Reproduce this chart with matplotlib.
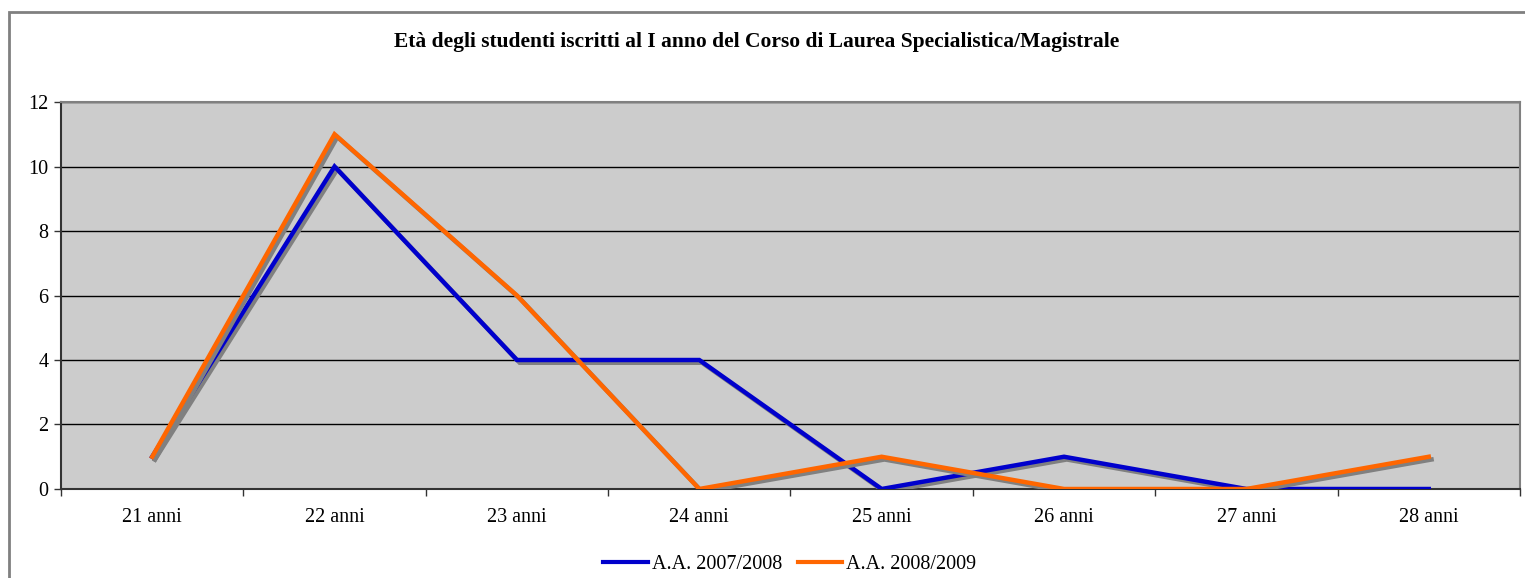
import matplotlib
matplotlib.use('Agg')
import matplotlib.pyplot as plt
import matplotlib.patheffects as pe
from matplotlib.patches import Rectangle
from matplotlib.lines import Line2D

plt.rcParams['font.family'] = ['Liberation Serif', 'DejaVu Serif']

# data
categories = ['21 anni', '22 anni', '23 anni', '24 anni', '25 anni', '26 anni', '27 anni', '28 anni']
aa_2007 = [1, 10, 4, 4, 0, 1, 0, 0]
aa_2008 = [1, 11, 6, 0, 1, 0, 0, 1]
series_labels = ['A.A. 2007/2008', 'A.A. 2008/2009']
colors = ['#0000CC', '#FF6600']

fig = plt.figure(figsize=(15.25, 5.78), dpi=100)
ax = fig.add_axes([0.04, 0.154, 0.9567, 0.6695])

# outer chart border
fig.patches.append(Rectangle((9 / 1525, -0.05), 1.2, (578 - 12) / 578 + 0.05,
                             transform=fig.transFigure, fill=False,
                             edgecolor='#808080', linewidth=2, zorder=0))

shadow = [pe.SimpleLineShadow(offset=(2, -2), shadow_color='#808080', alpha=1), pe.Normal()]
x = list(range(len(categories)))
ax.plot(x, aa_2007, color=colors[0], lw=3.2, path_effects=shadow,
        solid_joinstyle='miter', zorder=3)
ax.plot(x, aa_2008, color=colors[1], lw=3.2, path_effects=shadow,
        solid_joinstyle='miter', zorder=4)

ax.set_facecolor('#CCCCCC')
ax.set_xlim(-0.5, len(categories) - 0.5)
ax.set_ylim(0, 12)
ax.set_yticks(range(0, 13, 2))
ax.set_xticks(x)
ax.set_xticklabels(categories)
ax.set_xticks([i + 0.5 for i in range(-1, len(categories))], minor=True)
ax.tick_params(axis='x', which='major', length=0, pad=14, labelsize=14.5)
ax.tick_params(axis='x', which='minor', length=5, width=1, color='#333333')
ax.tick_params(axis='y', length=5, width=1, color='#333333', labelsize=14.5, pad=4)
ax.grid(axis='y', color='black', lw=1)
ax.set_axisbelow(True)
for s in ['top', 'right']:
    ax.spines[s].set_color('#808080')
    ax.spines[s].set_linewidth(1.5)
for s in ['left', 'bottom']:
    ax.spines[s].set_color('#333333')
    ax.spines[s].set_linewidth(1.5)

fig.text(0.496, 0.927, 'Età degli studenti iscritti al I anno del Corso di Laurea Specialistica/Magistrale',
         ha='center', va='center', fontsize=15.5, fontweight='bold')

handles = [Line2D([], [], color=c, lw=3) for c in colors]
fig.legend(handles, series_labels, loc='center', bbox_to_anchor=(0.518, 0.023), ncol=2, frameon=False,
           fontsize=14.5, handlelength=2.2, handletextpad=0.2, columnspacing=0.8)

fig.savefig('out.png', dpi=100)
